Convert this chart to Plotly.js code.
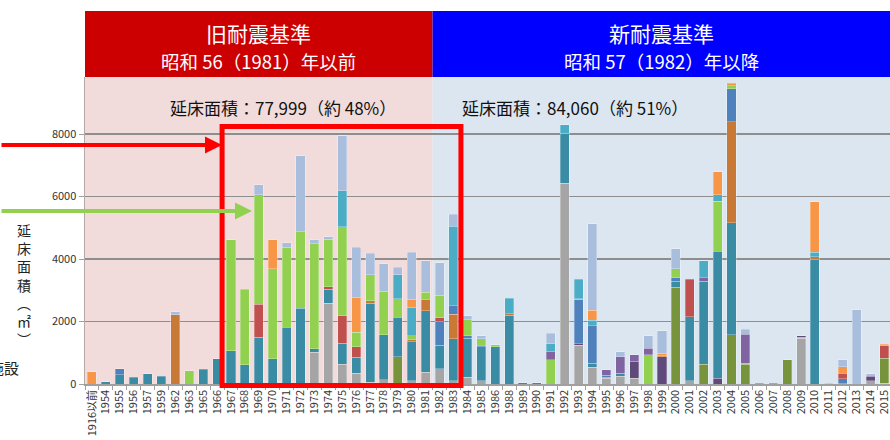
<!DOCTYPE html>
<html><head><meta charset="utf-8">
<script src="https://cdn.plot.ly/plotly-3.0.1.min.js"></script>
<style>html,body{margin:0;padding:0;background:#fff;}#chart{width:890px;height:440px;}</style>
</head><body><div id="chart"></div>
<script>
const categories = ["1916以前","1954","1955","1956","1957","1959","1962","1963","1965","1966",
"1967","1968","1969","1970","1971","1972","1973","1974","1975","1976",
"1977","1978","1979","1980","1981","1982","1983","1984","1985","1986",
"1988","1989","1990","1991","1992","1993","1994","1995","1996","1997",
"1998","1999","2000","2001","2002","2003","2004","2005","2006","2007",
"2008","2009","2010","2011","2012","2013","2014","2015"];

const sGray = [0,0,0,0,0,0,0,0,0,0, 0,0,0,0,0,0,1010,2590,640,350, 60,140,0,110,370,490,110,210,110,0, 0,0,0,0,6430,1235,530,180,245,180, 0,0,0,105,0,0,0,0,0,0, 0,1470,0,0,0,0,105,30];
const sOlive = [0,0,0,0,0,0,0,0,0,0, 0,0,0,0,0,0,0,0,0,0, 0,0,880,0,0,0,0,0,0,0, 0,0,0,0,0,0,0,0,0,0, 0,0,3100,0,640,0,1580,640,0,0, 780,30,0,0,0,0,0,800];
const sDarkPurple = [0,0,0,0,0,0,0,0,0,0, 0,0,0,0,0,0,0,0,0,0, 0,0,0,0,0,0,0,0,0,0, 0,0,0,0,0,55,0,0,0,545, 0,880,0,0,0,180,0,0,0,0, 0,50,0,0,30,0,140,0];
const sTeal = [0,80,300,210,330,245,0,0,470,810, 1070,620,1500,810,1810,2430,120,450,670,510, 2530,1440,1260,1240,1980,745,1340,1260,1080,1200, 2195,0,35,0,1600,0,140,40,105,0, 0,0,190,2050,2645,4065,3580,0,0,0, 0,0,3980,0,0,0,0,0];
const sBrown = [0,0,0,0,0,0,2220,0,0,0, 0,0,0,0,0,0,0,0,0,0, 70,0,0,70,370,0,790,0,0,0, 55,0,0,0,0,0,0,0,0,0, 0,45,0,0,0,0,3230,30,30,30, 0,0,100,0,0,0,0,0];
const sBlue = [0,0,190,0,0,0,0,0,0,0, 0,0,0,0,0,0,0,0,0,0, 0,0,0,0,0,750,270,75,50,0, 0,0,0,0,0,1410,1195,60,0,0, 0,0,110,0,0,0,1055,0,0,0, 0,0,0,0,140,0,0,0];
const sRed = [0,0,0,0,0,0,0,0,0,0, 0,0,1045,0,0,0,0,80,870,340, 0,0,0,0,0,140,0,0,0,0, 0,0,0,0,0,0,0,0,0,0, 0,0,0,1205,0,0,0,0,0,0, 0,0,0,0,180,0,0,400];
const sLightGreen = [0,0,0,0,0,0,0,425,0,0, 3550,2420,3510,2880,2570,2450,3360,1520,2860,460, 830,1390,590,130,210,710,0,510,205,55, 0,0,0,780,0,30,0,0,0,0, 940,0,290,0,0,1600,105,0,0,0, 0,0,0,0,0,0,0,0];
const sPurple = [0,0,0,0,0,0,0,0,0,0, 0,0,0,0,0,0,0,0,0,0, 0,0,0,0,0,0,0,0,0,0, 0,40,0,265,0,0,0,170,530,205, 200,0,0,0,120,0,0,930,0,0, 0,0,0,0,0,0,0,0];
const sCyan = [0,0,0,0,0,0,0,0,0,0, 0,0,0,0,0,0,0,0,1140,0, 0,0,770,900,0,0,2540,0,0,0, 490,0,0,245,260,630,170,0,0,0, 0,0,0,0,545,215,0,0,0,0, 0,0,130,0,0,0,0,0];
const sOrange = [400,0,0,0,0,0,0,0,0,0, 0,0,0,930,0,0,0,0,0,1110, 0,0,0,270,0,0,0,0,0,0, 0,0,0,0,0,0,320,0,0,0, 0,65,0,0,0,725,75,0,0,0, 0,0,1630,0,210,0,0,45];
const sLightBlue = [0,0,0,0,0,0,85,0,0,0, 0,0,320,0,140,2420,130,80,1760,1600, 690,880,230,1500,1010,1040,375,130,105,0, 0,0,0,340,0,0,2775,0,160,0, 410,715,640,0,0,0,0,160,0,0, 0,0,0,30,215,2380,85,0];

const seriesList = [
  {name:"系列1", values:sGray, color:"#a5a5a5"},
  {name:"系列2", values:sOlive, color:"#77933c"},
  {name:"系列3", values:sDarkPurple, color:"#604a7b"},
  {name:"系列4", values:sTeal, color:"#3a8ca4"},
  {name:"系列5", values:sBrown, color:"#c97936"},
  {name:"系列6", values:sBlue, color:"#4f81bd"},
  {name:"系列7", values:sRed, color:"#c0504d"},
  {name:"系列8", values:sLightGreen, color:"#92d050"},
  {name:"系列9", values:sPurple, color:"#8064a2"},
  {name:"系列10", values:sCyan, color:"#4bacc6"},
  {name:"系列11", values:sOrange, color:"#f79646"},
  {name:"系列12", values:sLightBlue, color:"#a9bddd"}
];

const traces = seriesList.map(s => ({
  type:"bar", name:s.name, x:categories, y:s.values.map(v => v || null),
  marker:{color:s.color, line:{color:"rgba(255,255,255,0.45)", width:0.6}},
  hoverinfo:"x+y+name"
}));

const FONT = "'Noto Sans CJK JP', 'Noto Sans', sans-serif";
const W = 890, H = 440, ML = 85, MT = 77, MB = 56;
const PH = H - MT - MB;
const px = x => (x - ML) / (W - ML);
const py = y => (H - MB - y) / PH;

function txt(xref, x, y, text, size, color, extra) {
  return Object.assign({xref:xref, yref:"paper", x:x, y:y, text:text, showarrow:false,
    xanchor:"center", yanchor:"middle", font:{family:FONT, size:size, color:color}}, extra || {});
}

const layout = {
  width:W, height:H,
  margin:{l:ML, r:0, t:MT, b:MB, pad:0},
  paper_bgcolor:"#ffffff", plot_bgcolor:"rgba(0,0,0,0)",
  barmode:"stack", bargap:0.35, showlegend:false,
  font:{family:FONT, color:"#333"},
  xaxis:{type:"category", range:[-0.5,57.4], tickangle:-90, ticks:"outside", tickson:"boundaries",
    ticklen:4, tickcolor:"#a0a0a0", showline:true, linecolor:"#a0a0a0", linewidth:1.5,
    showgrid:false, tickfont:{family:FONT, size:11, color:"#333"}, fixedrange:true},
  yaxis:{range:[0,9824], tickvals:[0,2000,4000,6000,8000], ticks:"outside", ticklen:5,
    tickcolor:"#a0a0a0", showline:true, linecolor:"#b8a8a8", linewidth:1.5,
    gridcolor:"#8e8e8e", gridwidth:1.5, zeroline:false,
    tickfont:{family:FONT, size:11, color:"#333"}, fixedrange:true},
  shapes:[
    {type:"rect", layer:"below", xref:"x", yref:"paper", x0:-0.7, x1:24.5, y0:0, y1:1, fillcolor:"#f2dcdb", line:{width:0}},
    {type:"rect", layer:"below", xref:"x", yref:"paper", x0:24.5, x1:60, y0:0, y1:1, fillcolor:"#dce6f1", line:{width:0}},
    {type:"rect", layer:"above", xref:"x", yref:"paper", x0:-0.7, x1:24.5, y0:1, y1:py(11), fillcolor:"#cc0000", line:{width:0}},
    {type:"rect", layer:"above", xref:"x", yref:"paper", x0:24.5, x1:60, y0:1, y1:py(11), fillcolor:"#0000ff", line:{width:0}},
    {type:"rect", layer:"above", xref:"x", yref:"paper", x0:9.36, x1:26.54, y0:py(385.5), y1:py(126.5), fillcolor:"rgba(0,0,0,0)", line:{color:"#ff0000", width:5}}
  ],
  annotations:[
    txt("x", 12, py(33), "旧耐震基準", 21, "#ffffff"),
    txt("x", 12, py(61), "昭和 56（1981）年以前", 18.5, "#ffffff"),
    txt("x", 41, py(33), "新耐震基準", 21, "#ffffff"),
    txt("x", 41, py(61), "昭和 57（1982）年以降", 18.5, "#ffffff"),
    txt("paper", px(283), py(107), "延床面積：77,999（約 48%）", 17, "#111"),
    txt("paper", px(575), py(107), "延床面積：84,060（約 51%）", 17, "#111"),
    {xref:"paper", yref:"paper", x:px(222), y:py(145), ax:-240, ay:0, text:"", showarrow:true, arrowhead:2, arrowsize:0.85, arrowwidth:4, arrowcolor:"#ff0000", standoff:0},
    {xref:"paper", yref:"paper", x:px(252), y:py(211), ax:-270, ay:0, text:"", showarrow:true, arrowhead:2, arrowsize:0.85, arrowwidth:4, arrowcolor:"#92d050", standoff:0},
    txt("paper", px(21), py(367), "施設", 15, "#222", {xanchor:"right"}),
    txt("paper", px(24), py(284), "延<br>床<br>面<br>積<br>︵<br>㎡<br>︶", 14, "#222")
  ]
};

Plotly.newPlot("chart", traces, layout, {displayModeBar:false, staticPlot:true});
</script></body></html>
